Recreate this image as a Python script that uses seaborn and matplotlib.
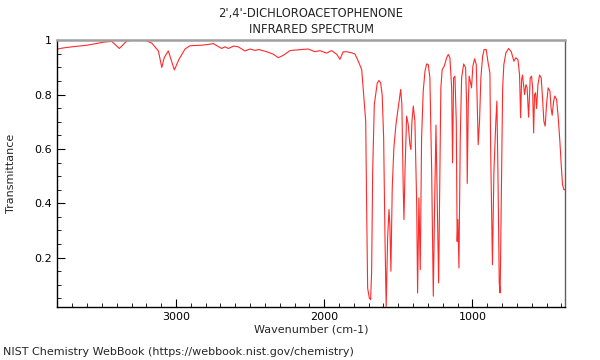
import matplotlib
matplotlib.use('Agg')
import matplotlib.pyplot as plt
import seaborn as sns
import pandas as pd
from matplotlib.ticker import MultipleLocator, FormatStrFormatter

# IR spectrum (wavenumber cm-1, transmittance)
wavenumber = [
    3800, 3760, 3703, 3600, 3479, 3434, 3382, 3333, 3299, 3209, 3164, 3119, 3096, 3079, 3052, 3011, 2980, 2939,
    2906, 2827, 2780, 2748, 2692, 2670, 2647, 2610, 2580, 2535, 2501, 2467, 2440, 2388, 2344, 2310, 2276, 2231, 2200,
    2150, 2108, 2062, 2029, 1984, 1950, 1916, 1894, 1872, 1849, 1815, 1793, 1770, 1747, 1732, 1720, 1714, 1707,
    1696, 1687, 1680, 1673, 1662, 1653, 1642, 1631, 1619, 1609, 1599, 1590, 1582, 1572, 1563, 1557,
    1550, 1541, 1530, 1516, 1501, 1484, 1476, 1467, 1462, 1455, 1444, 1433, 1422, 1415, 1408, 1399,
    1388, 1376, 1370, 1361, 1352, 1343, 1332, 1320, 1309, 1298, 1287, 1275, 1264, 1255, 1246, 1237,
    1228, 1219, 1213, 1204, 1190, 1174, 1163, 1152, 1140, 1134, 1127, 1118, 1109, 1103, 1098, 1091,
    1082, 1073, 1059, 1046, 1039, 1035, 1028, 1022, 1012, 1006, 997, 985, 974, 965, 961, 952,
    943, 931, 921, 907, 894, 882, 877, 865, 855, 848, 842, 835, 828, 819, 813, 806,
    796, 788, 774, 756, 738, 720, 707, 693, 682, 675, 668, 662, 653, 648, 639, 631,
    621, 610, 601, 594, 587, 581, 574, 567, 558, 547, 536, 527, 518, 509, 500, 489,
    477, 469, 462, 452, 444, 432, 421, 410, 401, 392, 383, 374,
]
transmittance = [
    0.968, 0.972, 0.976, 0.982, 0.994, 0.996, 0.970, 0.997, 1.000, 1.000, 0.990, 0.961, 0.900, 0.937, 0.961, 0.891, 0.930, 0.968,
    0.980, 0.982, 0.985, 0.988, 0.970, 0.976, 0.970, 0.979, 0.976, 0.961, 0.968, 0.963, 0.966, 0.958, 0.949, 0.936, 0.945, 0.962, 0.964,
    0.966, 0.968, 0.958, 0.962, 0.953, 0.962, 0.949, 0.930, 0.958, 0.958, 0.954, 0.950, 0.923, 0.892, 0.788, 0.702, 0.395, 0.088,
    0.052, 0.045, 0.150, 0.518, 0.764, 0.800, 0.843, 0.852, 0.843, 0.800, 0.641, 0.273, 0.020, 0.273, 0.377, 0.320,
    0.150, 0.457, 0.604, 0.690, 0.751, 0.819, 0.764, 0.457, 0.340, 0.518, 0.721, 0.690, 0.616, 0.598, 0.702, 0.758,
    0.702, 0.395, 0.070, 0.420, 0.156, 0.641, 0.813, 0.887, 0.913, 0.911, 0.862, 0.518, 0.058, 0.395, 0.688, 0.395,
    0.107, 0.518, 0.825, 0.892, 0.905, 0.936, 0.948, 0.936, 0.825, 0.549, 0.862, 0.868, 0.702, 0.260, 0.340, 0.162,
    0.641, 0.862, 0.913, 0.899, 0.764, 0.473, 0.764, 0.868, 0.843, 0.825, 0.905, 0.932, 0.911, 0.702, 0.616, 0.702,
    0.862, 0.942, 0.966, 0.966, 0.917, 0.880, 0.600, 0.174, 0.518, 0.616, 0.702, 0.776, 0.518, 0.107, 0.070, 0.395,
    0.825, 0.911, 0.954, 0.970, 0.958, 0.923, 0.936, 0.929, 0.874, 0.715, 0.856, 0.872, 0.825, 0.800, 0.837, 0.825,
    0.717, 0.862, 0.868, 0.825, 0.659, 0.800, 0.807, 0.749, 0.837, 0.872, 0.862, 0.788, 0.702, 0.684, 0.764, 0.825,
    0.813, 0.749, 0.724, 0.776, 0.795, 0.782, 0.715, 0.629, 0.543, 0.469, 0.450, 0.450,
]

title = "2',4'-DICHLOROACETOPHENONE\nINFRARED SPECTRUM"
footer = "NIST Chemistry WebBook (https://webbook.nist.gov/chemistry)"

df = pd.DataFrame({'wavenumber': wavenumber, 'transmittance': transmittance})

sns.set_style('ticks')
plt.rcParams['font.family'] = ['DejaVu Sans']

fig = plt.figure(figsize=(6, 3.6), dpi=100)
ax = fig.add_axes([0.095, 0.147, 0.847, 0.741])

sns.lineplot(data=df, x='wavenumber', y='transmittance', color='#ff2a2a',
             linewidth=0.8, sort=False, ax=ax)

ax.set_xlim(3803, 374)
ax.set_ylim(0.018, 1.0)

ax.xaxis.set_major_locator(MultipleLocator(1000))
ax.xaxis.set_minor_locator(MultipleLocator(100))
ax.yaxis.set_major_locator(MultipleLocator(0.2))
ax.yaxis.set_minor_locator(MultipleLocator(0.05))
ax.yaxis.set_major_formatter(FormatStrFormatter('%g'))

ax.tick_params(which='both', direction='in', labelsize=8, colors='black')
ax.tick_params(which='major', length=6, width=0.8)
ax.tick_params(which='minor', length=3, width=0.6)

for side in ['left', 'bottom']:
    ax.spines[side].set_color('black')
    ax.spines[side].set_linewidth(1.0)
ax.spines['top'].set_color('#a0a0a0')
ax.spines['top'].set_linewidth(1.8)
ax.spines['right'].set_color('#606060')
ax.spines['right'].set_linewidth(1.0)

ax.set_xlabel('Wavenumber (cm-1)', fontsize=8, labelpad=2)
ax.set_ylabel('Transmittance', fontsize=8, labelpad=13)
ax.set_title(title, fontsize=8.3, pad=5, linespacing=1.3)

fig.text(0.005, 0.022, footer, fontsize=8, va='center', ha='left')

fig.savefig('out.png', dpi=100)
